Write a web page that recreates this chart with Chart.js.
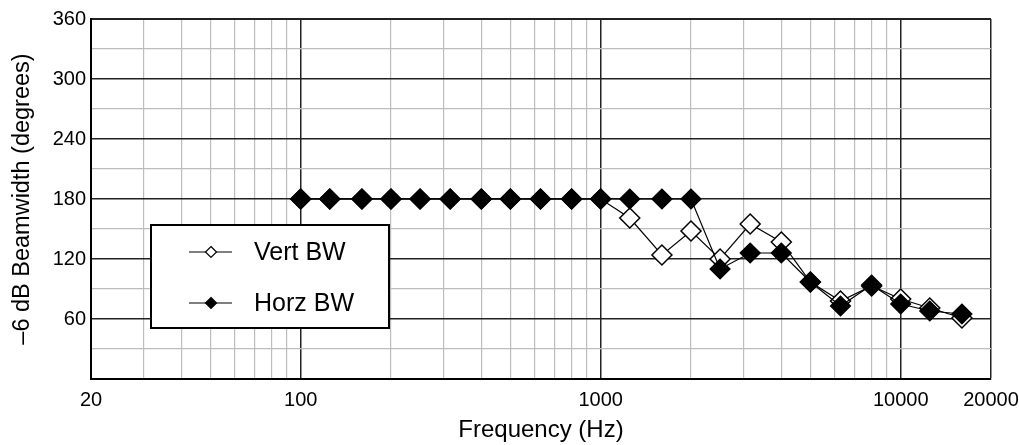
<!DOCTYPE html>
<html>
<head>
<meta charset="utf-8">
<script src="https://cdn.jsdelivr.net/npm/chart.js@4.4.1/dist/chart.umd.min.js"></script>
<style>
  html, body { margin: 0; padding: 0; background: #fff; }
  #wrap { position: relative; width: 1019px; height: 445px; }
</style>
</head>
<body>
<div id="wrap"><canvas id="chart"></canvas></div>
<script>
// 1/3-octave centre frequencies (Hz)
const FREQS = [100, 125, 160, 200, 250, 315, 400, 500, 630, 800, 1000,
  1250, 1600, 2000, 2500, 3150, 4000, 5000, 6300, 8000, 10000, 12500, 16000];

// -6 dB beamwidth (degrees)
const VERT_BW = [180, 180, 180, 180, 180, 180, 180, 180, 180, 180, 180,
  161, 124, 148, 120, 155, 137, 97, 78, 93, 80, 71, 61];
const HORZ_BW = [180, 180, 180, 180, 180, 180, 180, 180, 180, 180, 180,
  180, 180, 180, 110, 126, 126, 97, 73, 94, 75, 68, 65];

// grid lines on the log axis and the ones that get a label
const GRID_FREQS = [20, 30, 40, 50, 60, 70, 80, 90, 100, 200, 300, 400, 500, 600, 700, 800, 900,
  1000, 2000, 3000, 4000, 5000, 6000, 7000, 8000, 9000, 10000, 20000];
const X_LABELS = [20, 100, 1000, 10000, 20000];
const DECADES = [100, 1000, 10000, 20000];

const FONT = "'Liberation Sans', Arial, Helvetica, sans-serif";

const toXY = (ys) => FREQS.map((f, i) => ({ x: f, y: ys[i] }));

// legend box drawn inside the plot, like the original
const boxLegend = {
  id: "boxLegend",
  afterDraw(chart) {
    const { ctx, chartArea } = chart;
    const x = chartArea.left + 60;
    const y = chartArea.top + 206;
    const w = 238;
    const h = 103;
    ctx.save();
    ctx.fillStyle = "#fff";
    ctx.fillRect(x, y, w, h);
    ctx.lineWidth = 2;
    ctx.strokeStyle = "#000";
    ctx.strokeRect(x, y, w, h);

    const items = [chart.data.datasets[1], chart.data.datasets[0]];
    items.forEach((ds, i) => {
      const cy = y + 27 + i * 51;
      ctx.strokeStyle = "#000";
      ctx.lineWidth = 1.2;
      ctx.beginPath();
      ctx.moveTo(x + 38, cy);
      ctx.lineTo(x + 81, cy);
      ctx.stroke();
      ctx.fillStyle = ds.pointBackgroundColor;
      ctx.beginPath();
      ctx.moveTo(x + 60, cy - 5.5);
      ctx.lineTo(x + 65.5, cy);
      ctx.lineTo(x + 60, cy + 5.5);
      ctx.lineTo(x + 54.5, cy);
      ctx.closePath();
      ctx.fill();
      ctx.stroke();
      ctx.fillStyle = "#000";
      ctx.font = "25px " + FONT;
      ctx.textBaseline = "middle";
      ctx.fillText(ds.label, x + 103, cy + 1);
    });
    ctx.restore();
  },
};

new Chart(document.getElementById("chart"), {
  type: "line",
  data: {
    datasets: [
      {
        label: "Horz BW",
        data: toXY(HORZ_BW),
        borderColor: "#000",
        borderWidth: 1.2,
        pointStyle: "rectRot",
        pointRadius: 10,
        pointBorderWidth: 1.2,
        pointBackgroundColor: "#000",
        pointBorderColor: "#000",
        tension: 0,
      },
      {
        label: "Vert BW",
        data: toXY(VERT_BW),
        borderColor: "#000",
        borderWidth: 1.2,
        pointStyle: "rectRot",
        pointRadius: 10,
        pointBorderWidth: 1.5,
        pointBackgroundColor: "#fff",
        pointBorderColor: "#000",
        tension: 0,
      },
    ],
  },
  options: {
    responsive: true,
    maintainAspectRatio: false,
    animation: false,
    layout: { padding: { top: 19, right: 28, left: 0, bottom: 0 } },
    plugins: {
      legend: { display: false },
      tooltip: { enabled: false },
    },
    scales: {
      x: {
        type: "logarithmic",
        min: 20,
        max: 20000,
        afterBuildTicks: (scale) => {
          scale.ticks = GRID_FREQS.map((v) => ({ value: v }));
        },
        afterFit: (scale) => {
          scale.height = 66;
          scale.paddingLeft = 0;
          scale.paddingRight = 0;
        },
        border: { color: "#000", width: 2 },
        grid: {
          drawTicks: false,
          color: (c) => (DECADES.includes(c.tick.value) ? "#222" : "#bdbdbd"),
          lineWidth: (c) => (DECADES.includes(c.tick.value) ? 1.5 : 1.2),
        },
        ticks: {
          autoSkip: false,
          maxRotation: 0,
          padding: 9,
          color: "#000",
          font: { family: FONT, size: 20 },
          callback: (v) => (X_LABELS.includes(v) ? String(v) : ""),
        },
        title: {
          display: true,
          text: "Frequency (Hz)",
          color: "#000",
          font: { family: FONT, size: 24 },
          padding: { top: 0, bottom: 0 },
        },
      },
      y: {
        min: 0,
        max: 360,
        afterFit: (scale) => { scale.width = 91; },
        border: { color: "#000", width: 2 },
        grid: {
          drawTicks: false,
          color: (c) => (c.tick.value % 60 === 0 ? "#222" : "#bdbdbd"),
          lineWidth: (c) => (c.tick.value === 360 ? 2 : c.tick.value % 60 === 0 ? 1.5 : 1.2),
        },
        ticks: {
          stepSize: 30,
          padding: 5,
          color: "#000",
          font: { family: FONT, size: 20 },
          callback: (v) => (v > 0 && v % 60 === 0 ? String(v) : ""),
        },
        title: {
          display: true,
          text: "\u20136 dB Beamwidth (degrees)",
          color: "#000",
          font: { family: FONT, size: 23.5 },
          padding: { top: 8, bottom: 0 },
        },
      },
    },
  },
  plugins: [boxLegend],
});
</script>
</body>
</html>
